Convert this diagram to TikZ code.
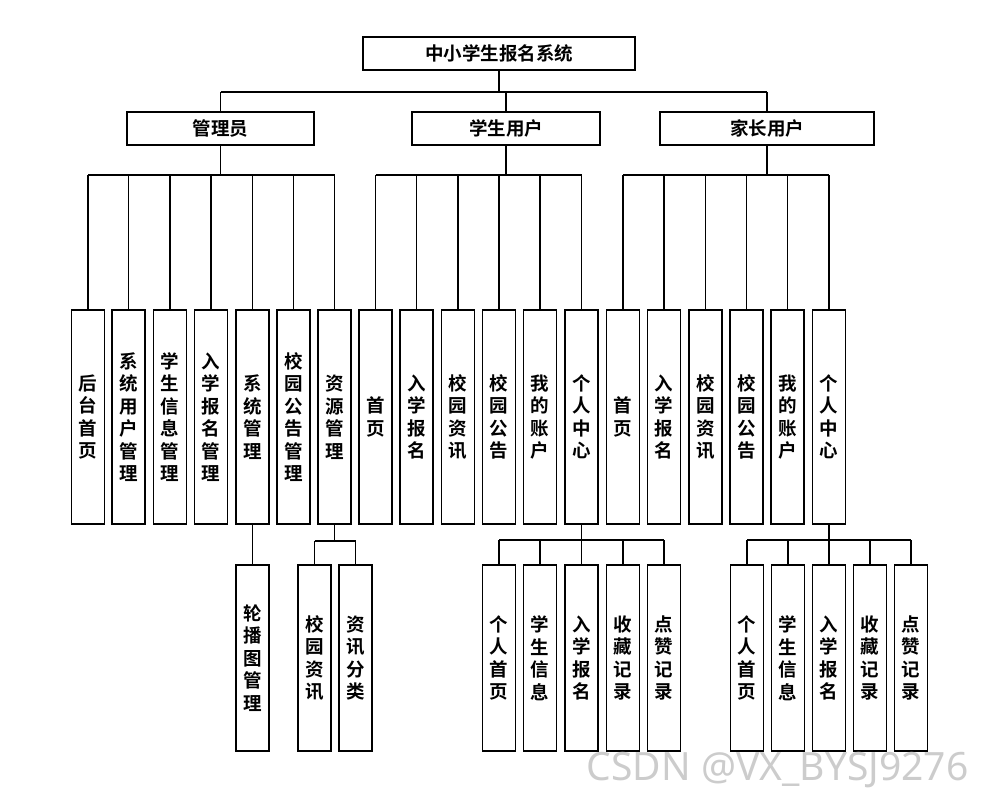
\documentclass[tikz,border=0pt]{standalone}
\usepackage{fontspec}
\newfontfamily\cjk[BoldFont={Noto Sans CJK SC Bold}]{Noto Sans CJK SC}
\begin{document}
\begin{tikzpicture}[x=1pt,y=-1pt,
  every node/.style={font=\cjk\bfseries\fontsize{18.5}{22}\selectfont},
  hbox/.style={draw,line width=1.3pt,minimum height=33pt,inner sep=0pt},
  vbox/.style={draw,line width=1.3pt,minimum width=33pt,inner sep=0pt,align=center,font=\cjk\bfseries\fontsize{18.5}{22.5}\selectfont},
  ln/.style={line width=1.1pt}]
\useasboundingbox (0,0) rectangle (984,802);
\node[hbox,minimum width=272pt] (root) at (499,53.5) {中小学生报名系统};
\node[hbox,minimum width=187pt] (a) at (220.5,128.5) {管理员};
\node[hbox,minimum width=188pt] (s) at (506,128.5) {学生用户};
\node[hbox,minimum width=214pt] (p) at (767,128.5) {家长用户};
\draw[ln] (root.south) -- (499,92) coordinate (j0);
\draw[ln] (220.5,92) -- (767,92);
\draw[ln] (220.5,92) -- (a.north);
\draw[ln] (506,92) -- (s.north);
\draw[ln] (767,92) -- (p.north);
% level 2 leaves
\foreach \n/\x/\t in {
 a1/88/后\\台\\首\\页, a2/128.5/系\\统\\用\\户\\管\\理, a3/170/学\\生\\信\\息\\管\\理, a4/211/入\\学\\报\\名\\管\\理,
 a5/252.5/系\\统\\管\\理, a6/293.5/校\\园\\公\\告\\管\\理, a7/334.5/资\\源\\管\\理,
 s1/375.5/首\\页, s2/416.5/入\\学\\报\\名, s3/458/校\\园\\资\\讯, s4/499/校\\园\\公\\告, s5/540/我\\的\\账\\户, s6/581.5/个\\人\\中\\心,
 p1/623/首\\页, p2/664/入\\学\\报\\名, p3/705.5/校\\园\\资\\讯, p4/746.5/校\\园\\公\\告, p5/787.5/我\\的\\账\\户, p6/829/个\\人\\中\\心}
{ \node[vbox,minimum height=214pt] (\n) at (\x,417) {\t}; }
\draw[ln] (a.south) -- (220.5,175); \draw[ln] (88,175) -- (334.5,175);
\foreach \n in {a1,a2,a3,a4,a5,a6,a7} \draw[ln] (\n.north) -- (\n.north |- 0,175);
\draw[ln] (s.south) -- (506,175); \draw[ln] (375.5,175) -- (581.5,175);
\foreach \n in {s1,s2,s3,s4,s5,s6} \draw[ln] (\n.north) -- (\n.north |- 0,175);
\draw[ln] (p.south) -- (767,175); \draw[ln] (623,175) -- (829,175);
\foreach \n in {p1,p2,p3,p4,p5,p6} \draw[ln] (\n.north) -- (\n.north |- 0,175);
% level 3
\foreach \n/\x/\t in {
 b1/252.5/轮\\播\\图\\管\\理, r1/314.5/校\\园\\资\\讯, r2/355.5/资\\讯\\分\\类,
 c1/499/个\\人\\首\\页, c2/540/学\\生\\信\\息, c3/581.5/入\\学\\报\\名, c4/623/收\\藏\\记\\录, c5/664/点\\赞\\记\\录,
 d1/747/个\\人\\首\\页, d2/788/学\\生\\信\\息, d3/829/入\\学\\报\\名, d4/870/收\\藏\\记\\录, d5/911/点\\赞\\记\\录}
{ \node[vbox,minimum height=186pt] (\n) at (\x,658) {\t}; }
\draw[ln] (a5.south) -- (b1.north);
\draw[ln] (a7.south) -- (334.5,541); \draw[ln] (314.5,541) -- (355.5,541);
\foreach \n in {r1,r2} \draw[ln] (\n.north) -- (\n.north |- 0,541);
\draw[ln] (s6.south) -- (581.5,540); \draw[ln] (499,540) -- (664,540);
\foreach \n in {c1,c2,c3,c4,c5} \draw[ln] (\n.north) -- (\n.north |- 0,540);
\draw[ln] (p6.south) -- (829,540); \draw[ln] (747,540) -- (911,540);
\foreach \n in {d1,d2,d3,d4,d5} \draw[ln] (\n.north) -- (\n.north |- 0,540);
\node[font=\fontspec{Noto Sans}\fontsize{39}{42}\selectfont,text=black!20,anchor=east] (wm) at (972,770) {CSDN @VX\_BYSJ9276};
\end{tikzpicture}
\end{document}
